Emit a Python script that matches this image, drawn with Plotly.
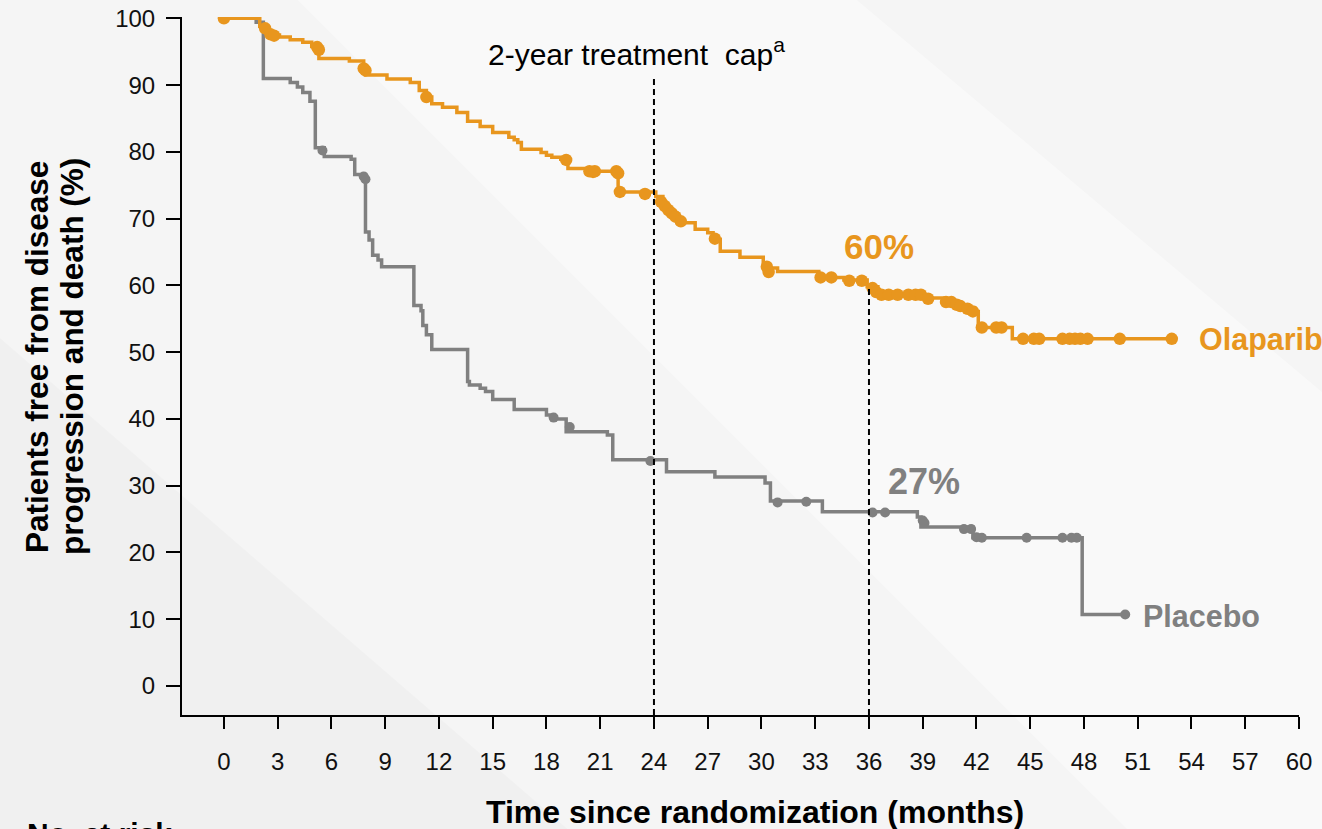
import numpy as np
import plotly.graph_objects as go

# ---- Kaplan-Meier step data (months, % free from progression/death) ----
olap_t = [0, 2.0, 2.4, 3.1, 3.7, 4.4, 4.9, 5.3, 7.0, 7.8, 7.9, 9.1, 10.4, 10.9, 11.3, 11.6,
          12.2, 13.0, 13.6, 14.3, 15.0, 15.9, 16.2, 16.4, 16.6, 17.7, 18.0, 18.3, 18.8, 19.2,
          20.4, 22.0, 24.1, 24.5, 24.8, 25.0, 25.3, 26.3, 27.0, 27.3, 27.7, 28.8, 30.1, 30.3,
          30.9, 33.2, 34.6, 35.9, 36.5, 39.2, 40.3, 40.8, 41.4, 41.9, 42.1, 44.0, 52.9]
olap_s = [100, 98.8, 97.5, 97.2, 96.8, 96.4, 95.8, 94.0, 93.6, 92.9, 91.5, 90.9, 90.4, 89.2, 88.2, 87.2,
          86.7, 85.9, 84.6, 83.8, 82.9, 82.2, 81.8, 81.4, 80.4, 79.9, 79.5, 79.2, 78.9, 77.5,
          77.1, 74.0, 73.3, 72.1, 71.4, 70.8, 69.4, 68.4, 67.9, 66.9, 65.1, 64.2, 63.4, 62.6,
          62.1, 61.2, 60.8, 59.8, 58.6, 58.1, 57.5, 57.1, 56.6, 56.1, 53.7, 52.0, 52.0]

olap_cens_t = [0, 2.3, 2.6, 2.8, 5.2, 5.3, 7.8, 7.9, 11.3, 19.1, 20.4, 20.6, 20.7, 21.9, 22.0,
               22.1, 23.5, 24.4, 24.6, 24.8, 25.0, 25.2, 25.5, 27.4, 30.3, 30.4, 33.3, 33.9,
               34.9, 35.6, 36.2, 36.4, 36.7, 37.1, 37.6, 38.2, 38.6, 38.9, 39.3, 40.3, 40.6,
               40.9, 41.1, 41.5, 41.8, 42.3, 43.1, 43.4, 44.6, 45.2, 45.5, 46.8, 47.2, 47.5,
               47.8, 48.2, 50.0, 52.9]
olap_cens_s = [100, 98.5, 97.6, 97.4, 95.7, 95.3, 92.5, 92.2, 88.2, 78.8, 77.1, 77.0, 77.1, 77.1, 76.8,
               74.0, 73.7, 72.5, 71.9, 71.3, 70.8, 70.3, 69.6, 67.0, 62.8, 62.0, 61.2, 61.2,
               60.7, 60.7, 59.6, 59.0, 58.6, 58.6, 58.6, 58.6, 58.6, 58.6, 58.0, 57.5, 57.5,
               57.1, 56.9, 56.5, 56.1, 53.7, 53.7, 53.7, 52.0, 52.0, 52.0, 52.0, 52.0, 52.0,
               52.0, 52.0, 52.0, 52.0]

plac_t = [0, 1.8, 2.2, 3.7, 4.1, 4.4, 4.8, 5.1, 5.6, 7.1, 7.3, 7.9, 8.1, 8.3, 8.6, 8.8, 10.6,
          11.0, 11.1, 11.3, 11.6, 13.6, 13.7, 14.3, 14.6, 15.0, 16.2, 18.0, 18.3, 19.1, 21.4,
          21.7, 24.7, 27.4, 30.2, 30.5, 33.4, 38.7, 38.9, 41.8, 47.9, 50.3]
plac_s = [100, 99.4, 91.0, 90.4, 89.7, 88.9, 87.6, 80.6, 79.3, 78.9, 76.6, 68.0, 66.8, 64.5, 63.8, 62.8, 57.0,
          56.2, 54.0, 52.6, 50.4, 45.6, 45.1, 44.6, 44.1, 42.9, 41.4, 40.6, 40.0, 38.1, 37.6,
          33.9, 32.1, 31.3, 30.4, 27.7, 26.1, 25.3, 23.8, 22.2, 10.7, 10.7]

plac_cens_t = [5.5, 7.8, 7.9, 18.4, 19.3, 23.8, 30.9, 32.5, 36.2, 36.9, 39.0, 39.1, 41.3, 41.7,
               42.0, 42.3, 44.8, 46.8, 47.3, 47.6, 50.3]
plac_cens_s = [80.2, 76.3, 75.9, 40.2, 38.8, 33.7, 27.5, 27.6, 26.0, 26.0, 24.8, 24.4, 23.5, 23.5,
               22.3, 22.2, 22.2, 22.2, 22.2, 22.2, 10.7]

x_ticks = list(range(0, 61, 3))
y_ticks = list(range(0, 101, 10))

CAP_MONTH = 24          # 2-year treatment cap
LANDMARK_MONTH = 36     # 3-year landmark
CAP_LINE_TOP = 91
OLAP_LABEL, PLAC_LABEL = "60%", "27%"

ORANGE = "#E8961E"
GREY = "#808080"
FONT = "Liberation Sans, Arial, sans-serif"

X_RANGE = [-2.34, 60]
Y_RANGE = [-4.34, 100.2]


def value_at(t_arr, s_arr, t):
    i = np.searchsorted(np.asarray(t_arr), t, side="right") - 1
    return s_arr[max(i, 0)]


fig = go.Figure()

fig.add_trace(go.Scatter(x=plac_t, y=plac_s, mode="lines", line=dict(color=GREY, width=3.5, shape="hv"),
                         hoverinfo="skip", showlegend=False))
fig.add_trace(go.Scatter(x=plac_cens_t, y=plac_cens_s, mode="markers",
                         marker=dict(color=GREY, size=10), hoverinfo="skip", showlegend=False))
fig.add_trace(go.Scatter(x=olap_t, y=olap_s, mode="lines", line=dict(color=ORANGE, width=3.5, shape="hv"),
                         hoverinfo="skip", showlegend=False))
fig.add_trace(go.Scatter(x=olap_cens_t, y=olap_cens_s, mode="markers",
                         marker=dict(color=ORANGE, size=12.5), hoverinfo="skip", showlegend=False))

# reference lines
fig.add_shape(type="line", x0=CAP_MONTH, x1=CAP_MONTH, y0=Y_RANGE[0], y1=CAP_LINE_TOP,
              xref="x", yref="y", line=dict(color="black", width=2, dash="6px,4px"))
fig.add_shape(type="line", x0=LANDMARK_MONTH, x1=LANDMARK_MONTH, y0=Y_RANGE[0],
              y1=value_at(olap_t, olap_s, LANDMARK_MONTH),
              xref="x", yref="y", line=dict(color="black", width=2, dash="6px,4px"))

# faint diagonal bands in the background
fig.add_shape(type="path", xref="paper", yref="paper", layer="below",
              path="M -0.17 -0.17 L -0.17 0.55 L 0.35 -0.17 Z",
              fillcolor="rgba(0,0,0,0.018)", line=dict(width=0))
fig.add_shape(type="path", xref="paper", yref="paper", layer="below",
              path="M 0.10 1.03 L 0.60 1.03 L 1.03 0.45 L 1.03 -0.17 L 0.85 -0.17 Z",
              fillcolor="rgba(255,255,255,0.4)", line=dict(width=0))

annotations = [
    dict(x=23.0, y=95.0, text="2-year treatment  cap<sup>a</sup>", showarrow=False,
         font=dict(size=30, color="black", family=FONT), xanchor="center", yanchor="middle"),
    dict(x=36.55, y=65.9, text=f"<b>{OLAP_LABEL}</b>", showarrow=False,
         font=dict(size=35, color=ORANGE, family=FONT), xanchor="center", yanchor="middle"),
    dict(x=39.06, y=30.7, text=f"<b>{PLAC_LABEL}</b>", showarrow=False,
         font=dict(size=36, color=GREY, family=FONT), xanchor="center", yanchor="middle"),
    dict(x=54.3, y=51.9, text="<b>Olaparib</b>", showarrow=False,
         font=dict(size=30.5, color=ORANGE, family=FONT), xanchor="left", yanchor="middle"),
    dict(x=51.2, y=10.5, text="<b>Placebo</b>", showarrow=False,
         font=dict(size=30.5, color=GREY, family=FONT), xanchor="left", yanchor="middle"),
    dict(x=(37 - 182) / 1117, y=0.513, xref="paper", yref="paper", textangle=-90,
         text="<b>Patients free from disease</b>", showarrow=False,
         font=dict(size=31.5, color="black", family=FONT), xanchor="center", yanchor="middle"),
    dict(x=(72 - 182) / 1117, y=0.513, xref="paper", yref="paper", textangle=-90,
         text="<b>progression and death (%)</b>", showarrow=False,
         font=dict(size=31.5, color="black", family=FONT), xanchor="center", yanchor="middle"),
    dict(x=0.513, y=-0.139, xref="paper", yref="paper",
         text="<b>Time since randomization (months)</b>", showarrow=False,
         font=dict(size=32, color="black", family=FONT), xanchor="center", yanchor="middle"),
    dict(x=-0.1406, y=-0.143, xref="paper", yref="paper",
         text="<b>No. at risk</b>", showarrow=False,
         font=dict(size=30, color="black", family=FONT), xanchor="left", yanchor="top"),
]

fig.update_layout(
    width=1322, height=829,
    margin=dict(l=182, r=23, t=17, b=114, autoexpand=False),
    paper_bgcolor="#f5f5f5", plot_bgcolor="rgba(0,0,0,0)",
    font=dict(family=FONT, color="black"),
    annotations=annotations,
    showlegend=False,
)
fig.update_xaxes(range=X_RANGE, tickvals=x_ticks, ticks="outside", ticklen=12, tickwidth=2,
                 tickcolor="black", showline=True, linecolor="black", linewidth=2,
                 showgrid=False, zeroline=False, tickfont=dict(size=24, color="#111"),
                 ticklabelstandoff=12, automargin=False)
fig.update_yaxes(range=Y_RANGE, tickvals=y_ticks, ticks="outside", ticklen=14, tickwidth=2,
                 tickcolor="black", showline=True, linecolor="black", linewidth=2,
                 showgrid=False, zeroline=False, tickfont=dict(size=24, color="#111"),
                 ticklabelstandoff=6, automargin=False)

fig.write_html("out.html")
